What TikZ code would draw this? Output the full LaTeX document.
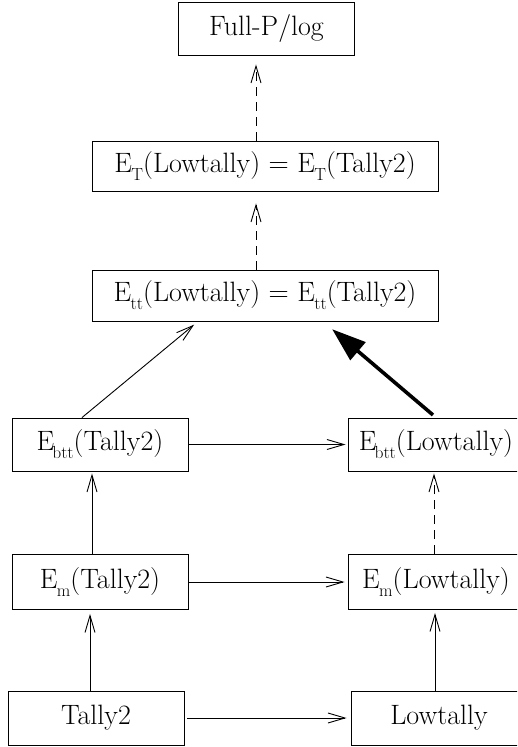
\documentclass[tikz,border=0pt]{standalone}
\usetikzlibrary{arrows.meta}
% E with a lowered subscript, as in E_m, E_T, E_tt, E_btt
\newcommand\Esb[2][-0.5pt]{E\kern#1\raisebox{-8pt}{\fontsize{17.5}{17.5}\selectfont #2}}
\tikzset{
  box/.style={draw, line width=0.9pt, inner sep=0pt,
    minimum width=176pt, minimum height=53pt,
    font=\fontsize{28}{30}\selectfont},
  thin arrow/.style={line width=0.9pt,
    -{Straight Barb[length=17pt,width=10pt,line width=0.9pt]}},
  dash arrow/.style={thin arrow, dash pattern=on 9pt off 6pt},
  bold arrow/.style={line width=3.6pt, -{Triangle[length=34pt,width=23pt]}}
}
\begin{document}
\begin{tikzpicture}[x=1pt, y=-1pt]
  \useasboundingbox (0,0) rectangle (517,747);
  \clip (0,0) rectangle (517,747);

  % nodes
  \node[box] (full) at (266.5,28.5) {Full-P/log};
  \node[box, minimum width=346pt, minimum height=50pt] (ET) at (265,166)
    {\Esb{T}(Lowtally) = \Esb{T}(Tally2)};
  \node[box, minimum width=346pt, minimum height=51pt] (Ett) at (265,295.5)
    {\Esb{tt}(Lowtally) = \Esb{tt}(Tally2)};
  \node[box] (bttL) at (100,444.5) {\Esb[-2pt]{btt}(Tally2)};
  \node[box] (bttR) at (436,444.5) {\Esb[-2pt]{btt}(Lowtally)};
  \node[box, minimum height=55pt] (mL) at (100,582) {\Esb{m}(Tally2)};
  \node[box, minimum height=55pt] (mR) at (436,582) {\Esb{m}(Lowtally)};
  \node[box, minimum height=54pt] (tL) at (96,718) {Tally2};
  \node[box, minimum height=54pt] (tR) at (439,718) {Lowtally};

  % left column
  \draw[thin arrow, shorten >=4pt] ([xshift=-6pt]tL.north) -- ([xshift=-10pt]mL.south);
  \draw[thin arrow, shorten >=2pt] ([xshift=-8pt]mL.north) -- ([xshift=-8pt]bttL.south);

  % right column
  \draw[thin arrow, shorten >=3pt] ([xshift=-4pt]tR.north) -- ([xshift=-1pt]mR.south);
  \draw[dash arrow, shorten >=2pt] ([xshift=-2pt]mR.north) -- ([xshift=-2pt]bttR.south);

  % across
  \draw[thin arrow, shorten <=3pt, shorten >=4pt] (tL.east) -- (tR.west);
  \draw[thin arrow, shorten >=3pt] (mL.east) -- (mR.west);
  \draw[thin arrow, shorten >=2pt] (bttL.east) -- (bttR.west);

  % into the top row
  \draw[thin arrow, shorten >=5pt] ([xshift=-18pt]bttL.north) -- ([xshift=-67pt]Ett.south);
  \draw[bold arrow, shorten <=4pt, shorten >=12pt] (bttR.north) -- ([xshift=58pt]Ett.south);
  \draw[dash arrow, shorten >=12pt] ([xshift=-9pt]Ett.north) -- ([xshift=-9pt]ET.south);
  \draw[dash arrow, shorten >=9pt] ([xshift=-9pt]ET.north) -- ([xshift=-10.5pt]full.south);
\end{tikzpicture}
\end{document}
